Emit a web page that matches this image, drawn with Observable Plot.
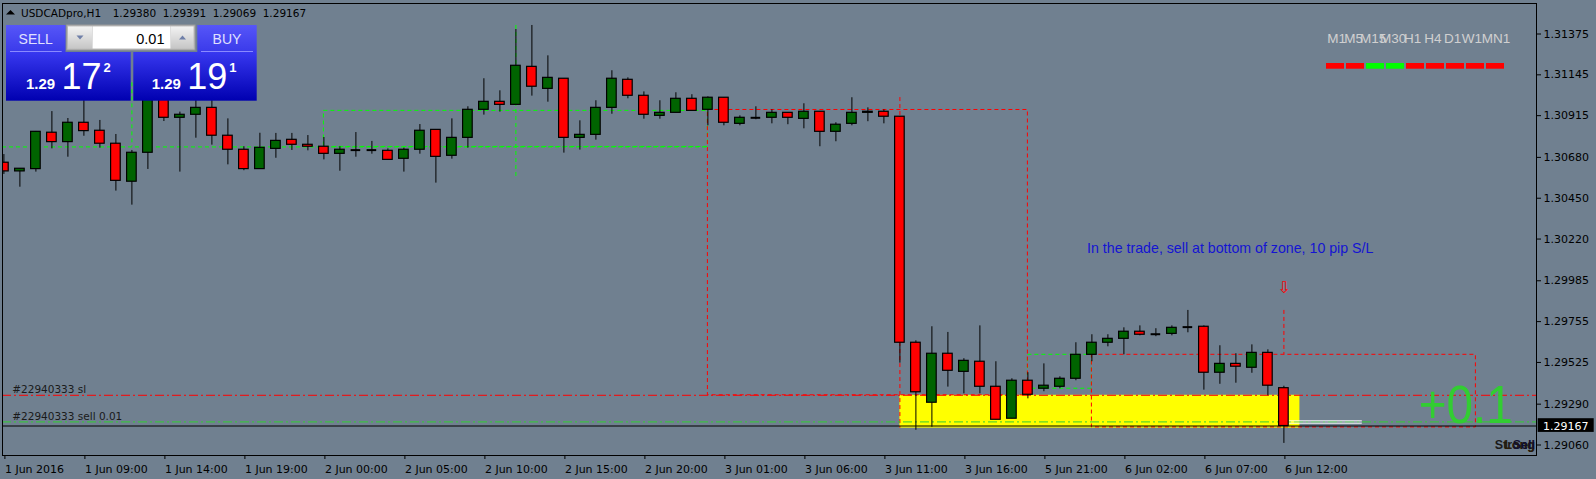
<!DOCTYPE html>
<html><head><meta charset="utf-8">
<script src="https://cdn.jsdelivr.net/npm/d3@7"></script>
<script src="https://cdn.jsdelivr.net/npm/@observablehq/plot@0.6"></script>
<style>
html,body{margin:0;padding:0;background:#708090;overflow:hidden}
svg{display:block}
</style></head><body><div id="chart"></div>
<script>
// ---- OHLC data (USDCADpro, H1), bar index 0 = 1 Jun 2016 04:00 ----
const opens = [1.30650,1.30601,1.30614,1.30819,1.30766,1.30875,1.30830,1.30757,1.30543,1.30706,
1.31040,1.30903,1.30920,1.30959,1.30802,1.30723,1.30614,1.30728,1.30779,1.30751,
1.30740,1.30700,1.30719,1.30721,1.30717,1.30672,1.30723,1.30835,1.30689,1.30790,
1.30948,1.30993,1.30976,1.31190,1.31066,1.31123,1.30790,1.30807,1.30959,1.31117,
1.31027,1.30914,1.30931,1.31010,1.30948,1.31016,1.30869,1.30903,1.30903,1.30931,
1.30897,1.30937,1.30824,1.30869,1.30931,1.30937,1.30909,1.29636,1.29298,1.29574,
1.29472,1.29529,1.29388,1.29208,1.29422,1.29377,1.29388,1.29433,1.29568,1.29636,
1.29658,1.29698,1.29684,1.29686,1.29724,1.29726,1.29467,1.29517,1.29495,1.29579,
1.29380];
const highs = [1.30696,1.30616,1.30826,1.30938,1.30899,1.31000,1.30888,1.30809,1.30719,1.31085,
1.31057,1.30935,1.31000,1.31000,1.30897,1.30740,1.30816,1.30815,1.30815,1.30803,
1.30792,1.30740,1.30820,1.30770,1.30728,1.30732,1.30865,1.30835,1.30897,1.30965,
1.31123,1.31055,1.31400,1.31423,1.31252,1.31123,1.30886,1.30999,1.31168,1.31128,
1.31049,1.30999,1.31044,1.31033,1.31021,1.31016,1.30914,1.30965,1.30948,1.30931,
1.30982,1.30937,1.30875,1.31016,1.30959,1.30948,1.30909,1.29647,1.29726,1.29694,
1.29546,1.29731,1.29529,1.29433,1.29467,1.29517,1.29444,1.29636,1.29681,1.29681,
1.29720,1.29731,1.29715,1.29731,1.29818,1.29731,1.29619,1.29574,1.29624,1.29596,
1.29391];
const lows = [1.30584,1.30512,1.30597,1.30728,1.30681,1.30799,1.30732,1.30490,1.30411,1.30612,
1.30882,1.30597,1.30788,1.30749,1.30638,1.30605,1.30614,1.30675,1.30719,1.30717,
1.30666,1.30602,1.30681,1.30698,1.30666,1.30597,1.30698,1.30535,1.30670,1.30732,
1.30918,1.30935,1.30976,1.31025,1.30991,1.30704,1.30721,1.30777,1.30923,1.31010,
1.30895,1.30895,1.30931,1.30942,1.30858,1.30858,1.30858,1.30892,1.30869,1.30864,
1.30841,1.30740,1.30768,1.30858,1.30881,1.30869,1.29521,1.29143,1.29160,1.29386,
1.29348,1.29348,1.29202,1.29208,1.29320,1.29360,1.29377,1.29422,1.29529,1.29613,
1.29568,1.29675,1.29670,1.29675,1.29692,1.29369,1.29402,1.29408,1.29464,1.29337,
1.29069];
const closes = [1.30601,1.30616,1.30824,1.30766,1.30875,1.30828,1.30757,1.30548,1.30706,1.31046,
1.30903,1.30920,1.30959,1.30802,1.30723,1.30614,1.30734,1.30773,1.30751,1.30740,
1.30700,1.30723,1.30721,1.30721,1.30666,1.30723,1.30830,1.30683,1.30790,1.30948,
1.30993,1.30976,1.31196,1.31078,1.31128,1.30790,1.30807,1.30959,1.31123,1.31027,
1.30920,1.30931,1.31010,1.30942,1.31016,1.30875,1.30903,1.30903,1.30931,1.30903,
1.30937,1.30824,1.30864,1.30931,1.30937,1.30909,1.29636,1.29357,1.29574,1.29478,
1.29534,1.29388,1.29202,1.29422,1.29343,1.29394,1.29433,1.29568,1.29636,1.29658,
1.29698,1.29681,1.29684,1.29720,1.29724,1.29467,1.29517,1.29501,1.29579,1.29394,
1.29167];

// ---- axes ----
const xTickIndex = [0,5,10,15,20,25,30,35,40,45,50,55,60,65,70,75,80];
const xTickLabels = ["1 Jun 2016","1 Jun 09:00","1 Jun 14:00","1 Jun 19:00","2 Jun 00:00","2 Jun 05:00",
  "2 Jun 10:00","2 Jun 15:00","2 Jun 20:00","3 Jun 01:00","3 Jun 06:00","3 Jun 11:00","3 Jun 16:00",
  "5 Jun 21:00","6 Jun 02:00","6 Jun 07:00","6 Jun 12:00"];
const yTicks = [1.31375,1.31145,1.30915,1.30680,1.30450,1.30220,1.29985,1.29755,1.29525,1.29290,1.29060];

// ---- chart objects (bar index / price) ----
const yellowZone = [{x1:56, x2:81, y1:1.29155, y2:1.29340}];
const greenRects = [{x1:20, x2:44, y1:1.30942, y2:1.30739},{x1:64, x2:68, y1:1.29568, y2:1.29377}];
const greenHLines = [{y:1.30739, x1:-0.09, x2:44}];
const greenVLines = [{x:8, y1:1.31100, y2:1.30739},{x:32, y1:1.31423, y2:1.30559}];
const redRects = [{x1:44, x2:64, y1:1.30947, y2:1.29340},{x1:68, x2:92, y1:1.29568, y2:1.29159}];
const redVLines = [{x:56, y1:1.31017, y2:1.29155},{x:80, y1:1.29818, y2:1.29568}];
const stopLoss = 1.29340, entryPrice = 1.29190, bidPrice = 1.29167;
const whiteLines = [1.29196, 1.29183];
const orderLabels = ["#22940333 sl", "#22940333 sell 0.01"];
const orderLabelPrices = [1.29370, 1.29219];
const commentText = "In the trade, sell at bottom of zone, 10 pip S/L";
const profitText = "+0.1";
const symbolTitle = "USDCADpro,H1";
const titleValues = ["1.29380","1.29391","1.29069","1.29167"];
const bidQuote = "1.29172", askQuote = "1.29191", lotSize = "0.01";
const tfLabels = ["M1","M5","M15","M30","H1","H4","D1","W1","MN1"];
const tfUp = [false,false,true,true,false,false,false,false,false];
const strengthWords = ["Strong","Long","Sell"];

const candles = opens.map((o,i)=>({i, open:o, high:highs[i], low:lows[i], close:closes[i]}));
const dojis = candles.filter(d => Math.abs(d.close - d.open) < 0.00003);
const BW = 0.3;
const dash = "4,3";
const dashDot = "9,3,2,3";

const plot = Plot.plot({
  width: 1596, height: 479,
  marginTop: 3, marginBottom: 24, marginLeft: 2, marginRight: 60,
  style: {background: "#708090", fontFamily: "DejaVu Sans", fontSize: "11px", color: "#000", overflow: "visible"},
  x: {type: "linear", domain: [0, 80], range: [3.4, 1283.4], axis: null},
  y: {type: "linear", domain: [1.31375, 1.29060], range: [33.5, 444.5], axis: null},
  marks: [
    Plot.rect(yellowZone, {x1:"x1", x2:"x2", y1:"y1", y2:"y2", fill:"#ffff00"}),
    Plot.rect(greenRects, {x1:"x1", x2:"x2", y1:"y1", y2:"y2", fill:"none", stroke:"#00ff00", strokeDasharray:dash}),
    Plot.ruleY(greenHLines, {y:"y", x1:"x1", x2:"x2", stroke:"#00ff00", strokeDasharray:dash}),
    Plot.ruleX(greenVLines, {x:"x", y1:"y1", y2:"y2", stroke:"#00ff00", strokeDasharray:dash}),
    Plot.rect(redRects, {x1:"x1", x2:"x2", y1:"y1", y2:"y2", fill:"none", stroke:"#ff0000", strokeDasharray:dash}),
    Plot.ruleX(redVLines, {x:"x", y1:"y1", y2:"y2", stroke:"#ff0000", strokeDasharray:dash}),
    Plot.ruleY([stopLoss], {stroke:"#ff0000", strokeDasharray:dashDot}),
    Plot.ruleY([entryPrice], {stroke:"#32cd32", strokeDasharray:dashDot}),
    Plot.ruleY([bidPrice], {stroke:"#000000"}),
    Plot.ruleY(whiteLines, {x1:80.3, x2:84.9, stroke:"#ffffff", strokeWidth:1}),
    // candles
    Plot.ruleX(candles, {x:"i", y1:"low", y2:"high", stroke:"#000", clip:true}),
    Plot.rect(candles.filter(d => Math.abs(d.close - d.open) >= 0.00003), {
      x1: d => d.i - BW, x2: d => d.i + BW, y1:"open", y2:"close",
      fill: d => d.close >= d.open ? "#006400" : "#ff0000", stroke:"#000", strokeWidth:1.2, clip:true}),
    Plot.ruleY(dojis, {y:"close", x1: d => d.i - BW, x2: d => d.i + BW, stroke:"#000", strokeWidth:2}),
    // texts
    Plot.text(orderLabels, {x:0.52, y:(d,i)=>orderLabelPrices[i], text:d=>d, textAnchor:"start", fill:"#1a1a1a", fontSize:10.5, fontFamily:"DejaVu Sans"}),
    Plot.text([commentText], {x:67.7, y:1.30166, text:d=>d, textAnchor:"start", fill:"#1414d2", fontSize:14.2, fontFamily:"Liberation Sans"}),
    Plot.text([profitText], {x:94.3, y:1.29284, text:d=>d, textAnchor:"end", fill:"#32cd32", fontSize:54, fontFamily:"Liberation Sans"}),
    Plot.text(["⇩"], {x:80, y:1.29945, text:d=>d, fill:"#ff0000", fontSize:16, fontFamily:"DejaVu Sans"}),
    // axes
    Plot.axisY({anchor:"right", ticks:yTicks, tickFormat:d=>d.toFixed(5), tickSize:4, tickPadding:3, label:null}),
    Plot.axisX({anchor:"bottom", ticks:xTickIndex, tickFormat:d=>xTickLabels[xTickIndex.indexOf(d)], textAnchor:"start", dx:1, tickSize:4, tickPadding:6, label:null}),
    Plot.frame({stroke:"#000"})
  ]
});
document.getElementById("chart").appendChild(plot);

const svg = d3.select(plot);
const yS = plot.scale("y");

// stretch big profit label like the terminal font
svg.selectAll("text").filter(function(){return this.textContent === profitText;})
  .attr("textLength", 94).attr("lengthAdjust", "spacingAndGlyphs");

const defs = svg.append("defs");
function grad(id, stops){
  const lg = defs.append("linearGradient").attr("id", id).attr("x1",0).attr("y1",0).attr("x2",0).attr("y2",1);
  stops.forEach(([o,c]) => lg.append("stop").attr("offset", o).attr("stop-color", c));
}
grad("tabG", [[0,"#5656f8"],[1,"#3a3aea"]]);
grad("boxG", [[0,"#3838f0"],[1,"#0000b0"]]);
grad("btnG", [[0,"#f2f2f2"],[1,"#c6c6c6"]]);

const ui = svg.append("g").attr("text-anchor", "start");
function rect(x,y,w,h,fill,stroke){ const r = ui.append("rect").attr("x",x).attr("y",y).attr("width",w).attr("height",h).attr("fill",fill); if(stroke) r.attr("stroke",stroke); return r; }
function txt(x,y,s,size,fill,opts={}){
  const t = ui.append("text").attr("x",x).attr("y",y).text(s).attr("font-size",size).attr("fill",fill)
    .attr("font-family", opts.family || "Liberation Sans")
    .attr("text-anchor", opts.anchor || "start");
  if (opts.weight) t.attr("font-weight", opts.weight);
  return t;
}

// title line
ui.append("polygon").attr("points","6,14.5 15,14.5 10.5,10").attr("fill","#000");
txt(21, 16.7, symbolTitle, 10.5, "#000", {family:"DejaVu Sans"});
titleValues.forEach((v,k)=> txt(112.7 + 50*k, 16.7, v, 10.5, "#000", {family:"DejaVu Sans"}));

// one-click trading panel
rect(6,25,59.5,27,"url(#tabG)");
rect(197.3,25,59.4,27,"url(#tabG)");
rect(6,52,124.7,48.7,"url(#boxG)");
rect(133.3,52,123.4,48.7,"url(#boxG)");
ui.append("line").attr("x1",10).attr("x2",61.7).attr("y1",51.5).attr("y2",51.5).attr("stroke","#8a8aff");
ui.append("line").attr("x1",201).attr("x2",253).attr("y1",51.5).attr("y2",51.5).attr("stroke","#8a8aff");
txt(35.7, 43.5, "SELL", 14, "#e0e0ff", {anchor:"middle"});
txt(227, 43.5, "BUY", 14, "#e0e0ff", {anchor:"middle"});
rect(66.7,25,128.3,25,"#bdbdbd","#9a9a9a");
rect(68,26.5,24,22,"url(#btnG)");
rect(92.5,26.5,78,22,"#ffffff");
rect(171,26.5,22.5,22,"url(#btnG)");
ui.append("polygon").attr("points","76.5,35.5 83.5,35.5 80,39.5").attr("fill","#6f7fa8");
ui.append("polygon").attr("points","179,39.5 186,39.5 182.5,35.5").attr("fill","#6f7fa8");
txt(164.5, 43.5, lotSize, 14.5, "#000", {anchor:"end"});
function quote(q, x0){
  txt(x0, 89, q.slice(0,4), 15, "#ffffff", {weight:"bold"});
  txt(x0+35.5, 89.3, q.slice(4,6), 36, "#ffffff");
  txt(x0+77.5, 72, q.slice(6), 13, "#ffffff", {weight:"bold"});
}
quote(bidQuote, 26);
quote(askQuote, 151.7);

// timeframe trend indicator
const tfX = [1327.3,1344.3,1360,1380,1404,1424.3,1444,1461.7,1481.7];
tfLabels.forEach((lab,k)=>{
  txt(tfX[k], 43.3, lab, 13.5, "#d0d0d0");
  rect(1326 + 20*k, 63, 18, 5.7, tfUp[k] ? "#00ff00" : "#ff0000");
});

// current bid price label on the axis
const by = yS.apply(bidPrice);
rect(1537.7, by-7.3, 56, 13.7, "#000");
txt(1543, by+4.2, bidPrice.toFixed(5), 11, "#ffffff", {family:"DejaVu Sans"});

// overlapping strength words at bottom-right (drawn on top of each other as in the terminal)
strengthWords.forEach((w,k)=> txt(1535, 449, w, 12.5, ["#1a1a1a","#2a1c08","#101030"][k], {anchor:"end", weight:"bold"}));
</script>
</body></html>
